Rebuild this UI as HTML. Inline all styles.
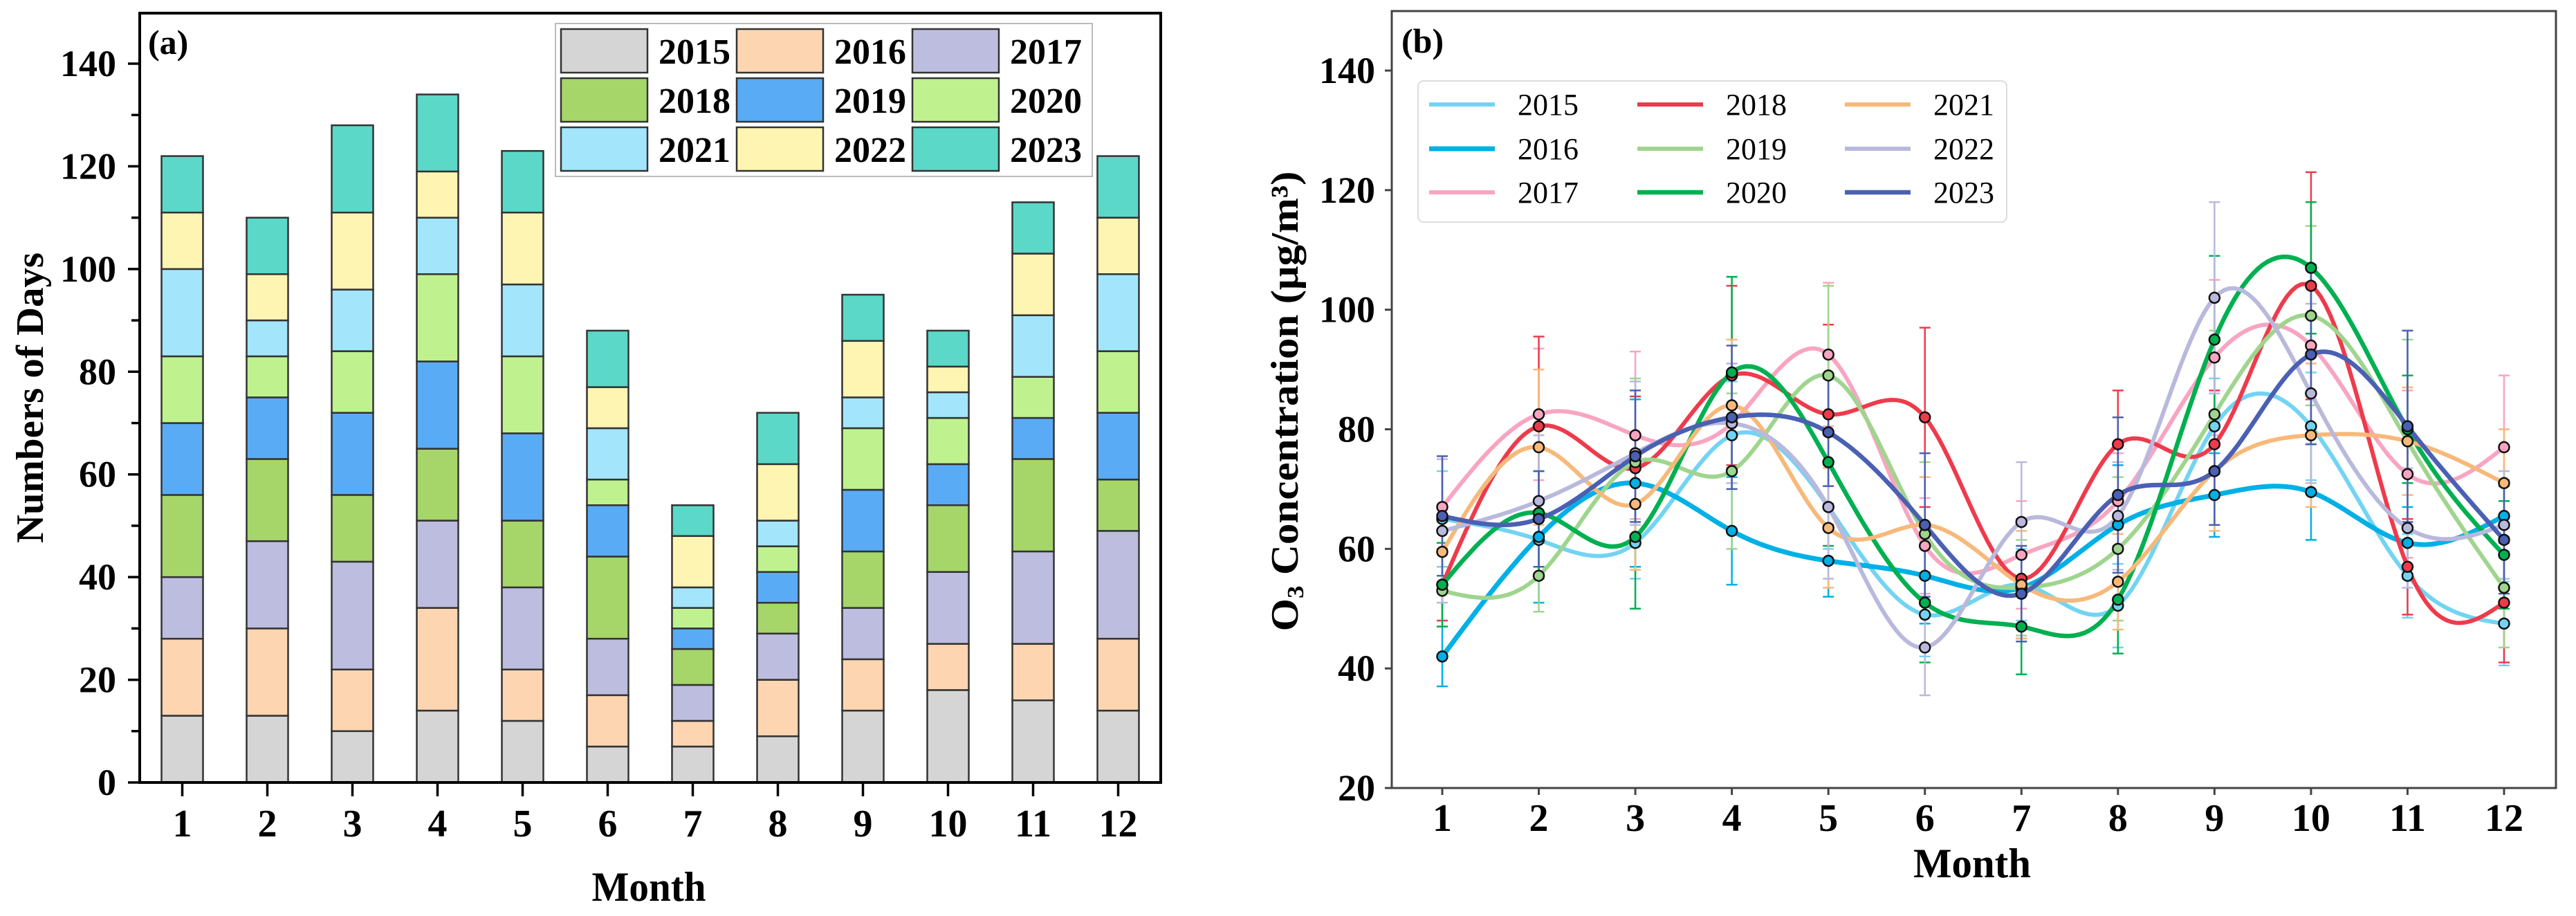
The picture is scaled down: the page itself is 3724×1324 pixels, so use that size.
<!DOCTYPE html>
<html><head><meta charset="utf-8"><style>
html,body{margin:0;padding:0;background:#fff;}
svg{display:block;font-family:"Liberation Serif","DejaVu Serif",serif;}
</style></head><body>
<svg id="fig" width="3724" height="1324" viewBox="0 0 3724 1324" xmlns="http://www.w3.org/2000/svg">
<g id="chartA"></g>
<g id="chartB"></g>
</svg>
<script>
// ---- Chart (a) data ----
const months = [1,2,3,4,5,6,7,8,9,10,11,12];
const barYears = ["2015","2016","2017","2018","2019","2020","2021","2022","2023"];
const d2015 = [13,13,10,14,12,7,7,9,14,18,16,14];
const d2016 = [15,17,12,20,10,10,5,11,10,9,11,14];
const d2017 = [12,17,21,17,16,11,7,9,10,14,18,21];
const d2018 = [16,16,13,14,13,16,7,6,11,13,18,10];
const d2019 = [14,12,16,17,17,10,4,6,12,8,8,13];
const d2020 = [13,8,12,17,15,5,4,5,12,9,8,12];
const d2021 = [17,7,12,11,14,10,4,5,6,5,12,15];
const d2022 = [11,9,15,9,14,8,10,11,11,5,12,11];
const d2023 = [11,11,17,15,12,11,6,10,9,7,10,12];
const yTicksA = [0,20,40,60,80,100,120,140];
// ---- Chart (b) data ----
const lineYears = ["2015","2016","2017","2018","2019","2020","2021","2022","2023"];
const o2015 = [65,61.5,61,79,67,49,54,50.5,80.5,80.5,55.5,47.5];
const o2016 = [42,62,71,63,58,55.5,53.5,64,69,69.5,61,65.5];
const o2017 = [67,82.5,79,81,92.5,60.5,59,68,92,94,72.5,77];
const o2018 = [54,80.5,73.5,89,82.5,82,55,77.5,77.5,104,57,51];
const o2019 = [53,55.5,74.5,73,89,62.5,53.5,60,82.5,99,78,53.5];
const o2020 = [54,66,62,89.5,74.5,51,47,51.5,95,107,80,59];
const o2021 = [59.5,77,67.5,84,63.5,64,54,54.5,73,79,78,71];
const o2022 = [63,68,76,81,67,43.5,64.5,65.5,102,86,63.5,64];
const o2023 = [65.5,65,75.5,82,79.5,64,52.5,69,73,92.5,80.5,61.5];
const e2015 = [8,6,6,9,7,7,6,7,8,9,7,7];
const e2016 = [5,11,14,9,6,8,6,10,7,8,6,6];
const e2017 = [8,11,14,10,12,8,9,8,13,10,14,12];
const e2018 = [6,15,12,15,15,15,10,9,9,19,8,10];
const e2019 = [6,6,14,13,15,12,8,12,14,15,17,10];
const e2020 = [7,11,12,16,14,10,8,9,14,11,9,9];
const e2021 = [5,13,11,11,10,8,9,8,10,12,9,9];
const e2022 = [12,11,12,10,12,8,10,9,16,15,10,9];
const e2023 = [10,8,11,12,9,12,8,13,9,15,16,9];
const yTicksB = [20,40,60,80,100,120,140];

const NS="http://www.w3.org/2000/svg";
function mk(parent,tag,attrs,text){const e=document.createElementNS(NS,tag);for(const k in attrs)e.setAttribute(k,attrs[k]);if(text!==undefined)e.textContent=text;parent.appendChild(e);return e;}

// ================= Chart A =================
const A=document.getElementById('chartA');
const barData=[d2015,d2016,d2017,d2018,d2019,d2020,d2021,d2022,d2023];
const barColors=["#d5d5d5","#fdd5b1","#bdbde0","#a6d66a","#5aabf5","#bff28f","#a3e6fc","#fff5b2","#5bd8c8"];
const AL=202,AR=1678,AT=19,AB=1131;
const xA=m=>AL+(m-0.5)*(AR-AL)/12;
const yA=v=>AB-v*(AB-92)/140;
const bw=60;
months.forEach((m,i)=>{
  let cum=0;
  barData.forEach((ser,s)=>{
    const v=ser[i];
    const r=mk(A,'rect',{x:xA(m)-bw/2,y:yA(cum+v),width:bw,height:yA(cum)-yA(cum+v),fill:barColors[s],stroke:"#333",'stroke-width':2.5});
    
    
    cum+=v;
  });
});
// axes frame
let fa=mk(A,'rect',{x:AL,y:AT,width:AR-AL,height:AB-AT,fill:"none",stroke:"#000",'stroke-width':4});


for(let v=0;v<=140;v+=10){
  const major=v%20===0;
  const t=mk(A,'line',{x1:AL-(major?17:12),x2:AL,y1:yA(v),y2:yA(v),stroke:"#000",'stroke-width':3.5});
  
  
}
yTicksA.forEach(v=>{
  const t=mk(A,'text',{x:168,y:yA(v)+18,'text-anchor':'end','font-size':54,'font-weight':'bold'},String(v));
  
  
});
months.forEach(m=>{
  const t=mk(A,'line',{x1:xA(m),x2:xA(m),y1:AB,y2:AB+20,stroke:"#000",'stroke-width':3.5});
  
  
  const l=mk(A,'text',{x:xA(m),y:AB+78,'text-anchor':'middle','font-size':56,'font-weight':'bold'},String(m));
  
  
});
let ta=mk(A,'text',{x:938,y:1302,'text-anchor':'middle','font-size':60,'font-weight':'bold',textLength:165,lengthAdjust:'spacingAndGlyphs'},"Month");


let ya=mk(A,'text',{x:0,y:0,'text-anchor':'middle','font-size':56,'font-weight':'bold',transform:'translate(62,575) rotate(-90)',textLength:420,lengthAdjust:'spacingAndGlyphs'},"Numbers of Days");


let pa=mk(A,'text',{x:214,y:78,'font-size':50,'font-weight':'bold'},"(a)");


// legend A
let lgA=mk(A,'g',{});


mk(lgA,'rect',{x:803,y:34,width:776,height:221,fill:"#fff",stroke:"#bbb",'stroke-width':2});
const colX=[811,1065,1319],rowY=[42,113,184];
barYears.forEach((yr,k)=>{
  const c=k%3,r=Math.floor(k/3);
  const g=mk(lgA,'g',{});
  
  
  mk(g,'rect',{x:colX[c],y:rowY[r],width:125,height:63,fill:barColors[k],stroke:"#333",'stroke-width':2.5});
  mk(g,'text',{x:colX[c]+141,y:rowY[r]+50,'font-size':52,'font-weight':'bold'},yr);
});

// ================= Chart B =================
const B=document.getElementById('chartB');
const lineData=[o2015,o2016,o2017,o2018,o2019,o2020,o2021,o2022,o2023];
const errData=[e2015,e2016,e2017,e2018,e2019,e2020,e2021,e2022,e2023];
const lineColors=["#72d4f2","#00b0e6","#f8a5c2","#ee3b4c","#9fd58e","#00b050","#f7b97a","#b9b9dd","#4a60b2"];
const lineW=[6,7,6,6,6,6.5,6,6,6.5];
const BL=2012,BR=3695,BT=16,BB=1139;
const xB=m=>2085+(m-1)*(3620-2085)/11;
const yB=v=>BB-(v-20)*(BB-102)/120;
function spline(xs,ys){
  const n=xs.length,h=[],al=[0],l=[1],mu=[0],z=[0],c=new Array(n).fill(0),b=[],d=[];
  for(let i=0;i<n-1;i++)h.push(xs[i+1]-xs[i]);
  for(let i=1;i<n-1;i++)al.push(3/h[i]*(ys[i+1]-ys[i])-3/h[i-1]*(ys[i]-ys[i-1]));
  for(let i=1;i<n-1;i++){l[i]=2*(xs[i+1]-xs[i-1])-h[i-1]*mu[i-1];mu[i]=h[i]/l[i];z[i]=(al[i]-h[i-1]*z[i-1])/l[i];}
  for(let j=n-2;j>=0;j--){c[j]=z[j]-mu[j]*c[j+1];b[j]=(ys[j+1]-ys[j])/h[j]-h[j]*(c[j+1]+2*c[j])/3;d[j]=(c[j+1]-c[j])/(3*h[j]);}
  const pts=[];
  for(let j=0;j<n-1;j++){for(let t=0;t<20;t++){const dx=t/20*h[j];pts.push([xs[j]+dx,ys[j]+b[j]*dx+c[j]*dx*dx+d[j]*dx*dx*dx]);}}
  pts.push([xs[n-1],ys[n-1]]);return pts;
}
// error bars
lineData.forEach((ser,s)=>{
  const g=mk(B,'g',{});
  
  
  ser.forEach((v,i)=>{
    const x=xB(months[i]),e=errData[s][i];
    mk(g,'line',{x1:x,x2:x,y1:yB(v-e),y2:yB(v+e),stroke:lineColors[s],'stroke-width':2.5});
    mk(g,'line',{x1:x-8,x2:x+8,y1:yB(v-e),y2:yB(v-e),stroke:lineColors[s],'stroke-width':2.5});
    mk(g,'line',{x1:x-8,x2:x+8,y1:yB(v+e),y2:yB(v+e),stroke:lineColors[s],'stroke-width':2.5});
  });
});
lineData.forEach((ser,s)=>{
  const pts=spline(months,ser);
  const dstr=pts.map((p,k)=>(k?'L':'M')+xB(p[0]).toFixed(1)+' '+yB(p[1]).toFixed(1)).join(' ');
  const p=mk(B,'path',{d:dstr,fill:"none",stroke:lineColors[s],'stroke-width':lineW[s],'stroke-linejoin':'round'});
  
  
});
lineData.forEach((ser,s)=>{
  ser.forEach((v,i)=>{
    const c=mk(B,'circle',{cx:xB(months[i]),cy:yB(v),r:7.5,fill:lineColors[s],stroke:"#111",'stroke-width':2.5});
    
    
  });
});
let fb=mk(B,'rect',{x:BL,y:BT,width:BR-BL,height:BB-BT,fill:"none",stroke:"#444",'stroke-width':3});


yTicksB.forEach(v=>{
  const t=mk(B,'line',{x1:BL-10,x2:BL,y1:yB(v),y2:yB(v),stroke:"#444",'stroke-width':3});
  
  
  const l=mk(B,'text',{x:1988,y:yB(v)+18,'text-anchor':'end','font-size':54,'font-weight':'bold'},String(v));
  
  
});
months.forEach(m=>{
  const t=mk(B,'line',{x1:xB(m),x2:xB(m),y1:BB,y2:BB+10,stroke:"#444",'stroke-width':3});
  
  
  const l=mk(B,'text',{x:xB(m),y:BB+62,'text-anchor':'middle','font-size':56,'font-weight':'bold'},String(m));
  
  
});
let tb=mk(B,'text',{x:2851,y:1268,'text-anchor':'middle','font-size':60,'font-weight':'bold',textLength:170,lengthAdjust:'spacingAndGlyphs'},"Month");


let yb=mk(B,'text',{x:0,y:0,'text-anchor':'middle','font-size':56,'font-weight':'bold',transform:'translate(1876,580) rotate(-90)',textLength:665,lengthAdjust:'spacingAndGlyphs'});


yb.innerHTML='O<tspan font-size="34" dy="8">3</tspan><tspan dy="-8"> Concentration (μg/m³)</tspan>';
let pb=mk(B,'text',{x:2026,y:76,'font-size':50,'font-weight':'bold'},"(b)");


let lgB=mk(B,'g',{});


mk(lgB,'rect',{x:2050,y:117,width:851,height:204,rx:8,fill:"#fff",stroke:"#ddd",'stroke-width':2});
const lcx=[2066,2367,2667],lry=[151,215,278];
lineYears.forEach((yr,k)=>{
  const c=Math.floor(k/3),r=k%3;
  const g=mk(lgB,'g',{});
  
  
  mk(g,'line',{x1:lcx[c],x2:lcx[c]+95,y1:lry[r],y2:lry[r],stroke:lineColors[k],'stroke-width':lineW[k]});
  mk(g,'text',{x:lcx[c]+128,y:lry[r]+15,'font-size':44},yr);
});
</script>
</body></html>
